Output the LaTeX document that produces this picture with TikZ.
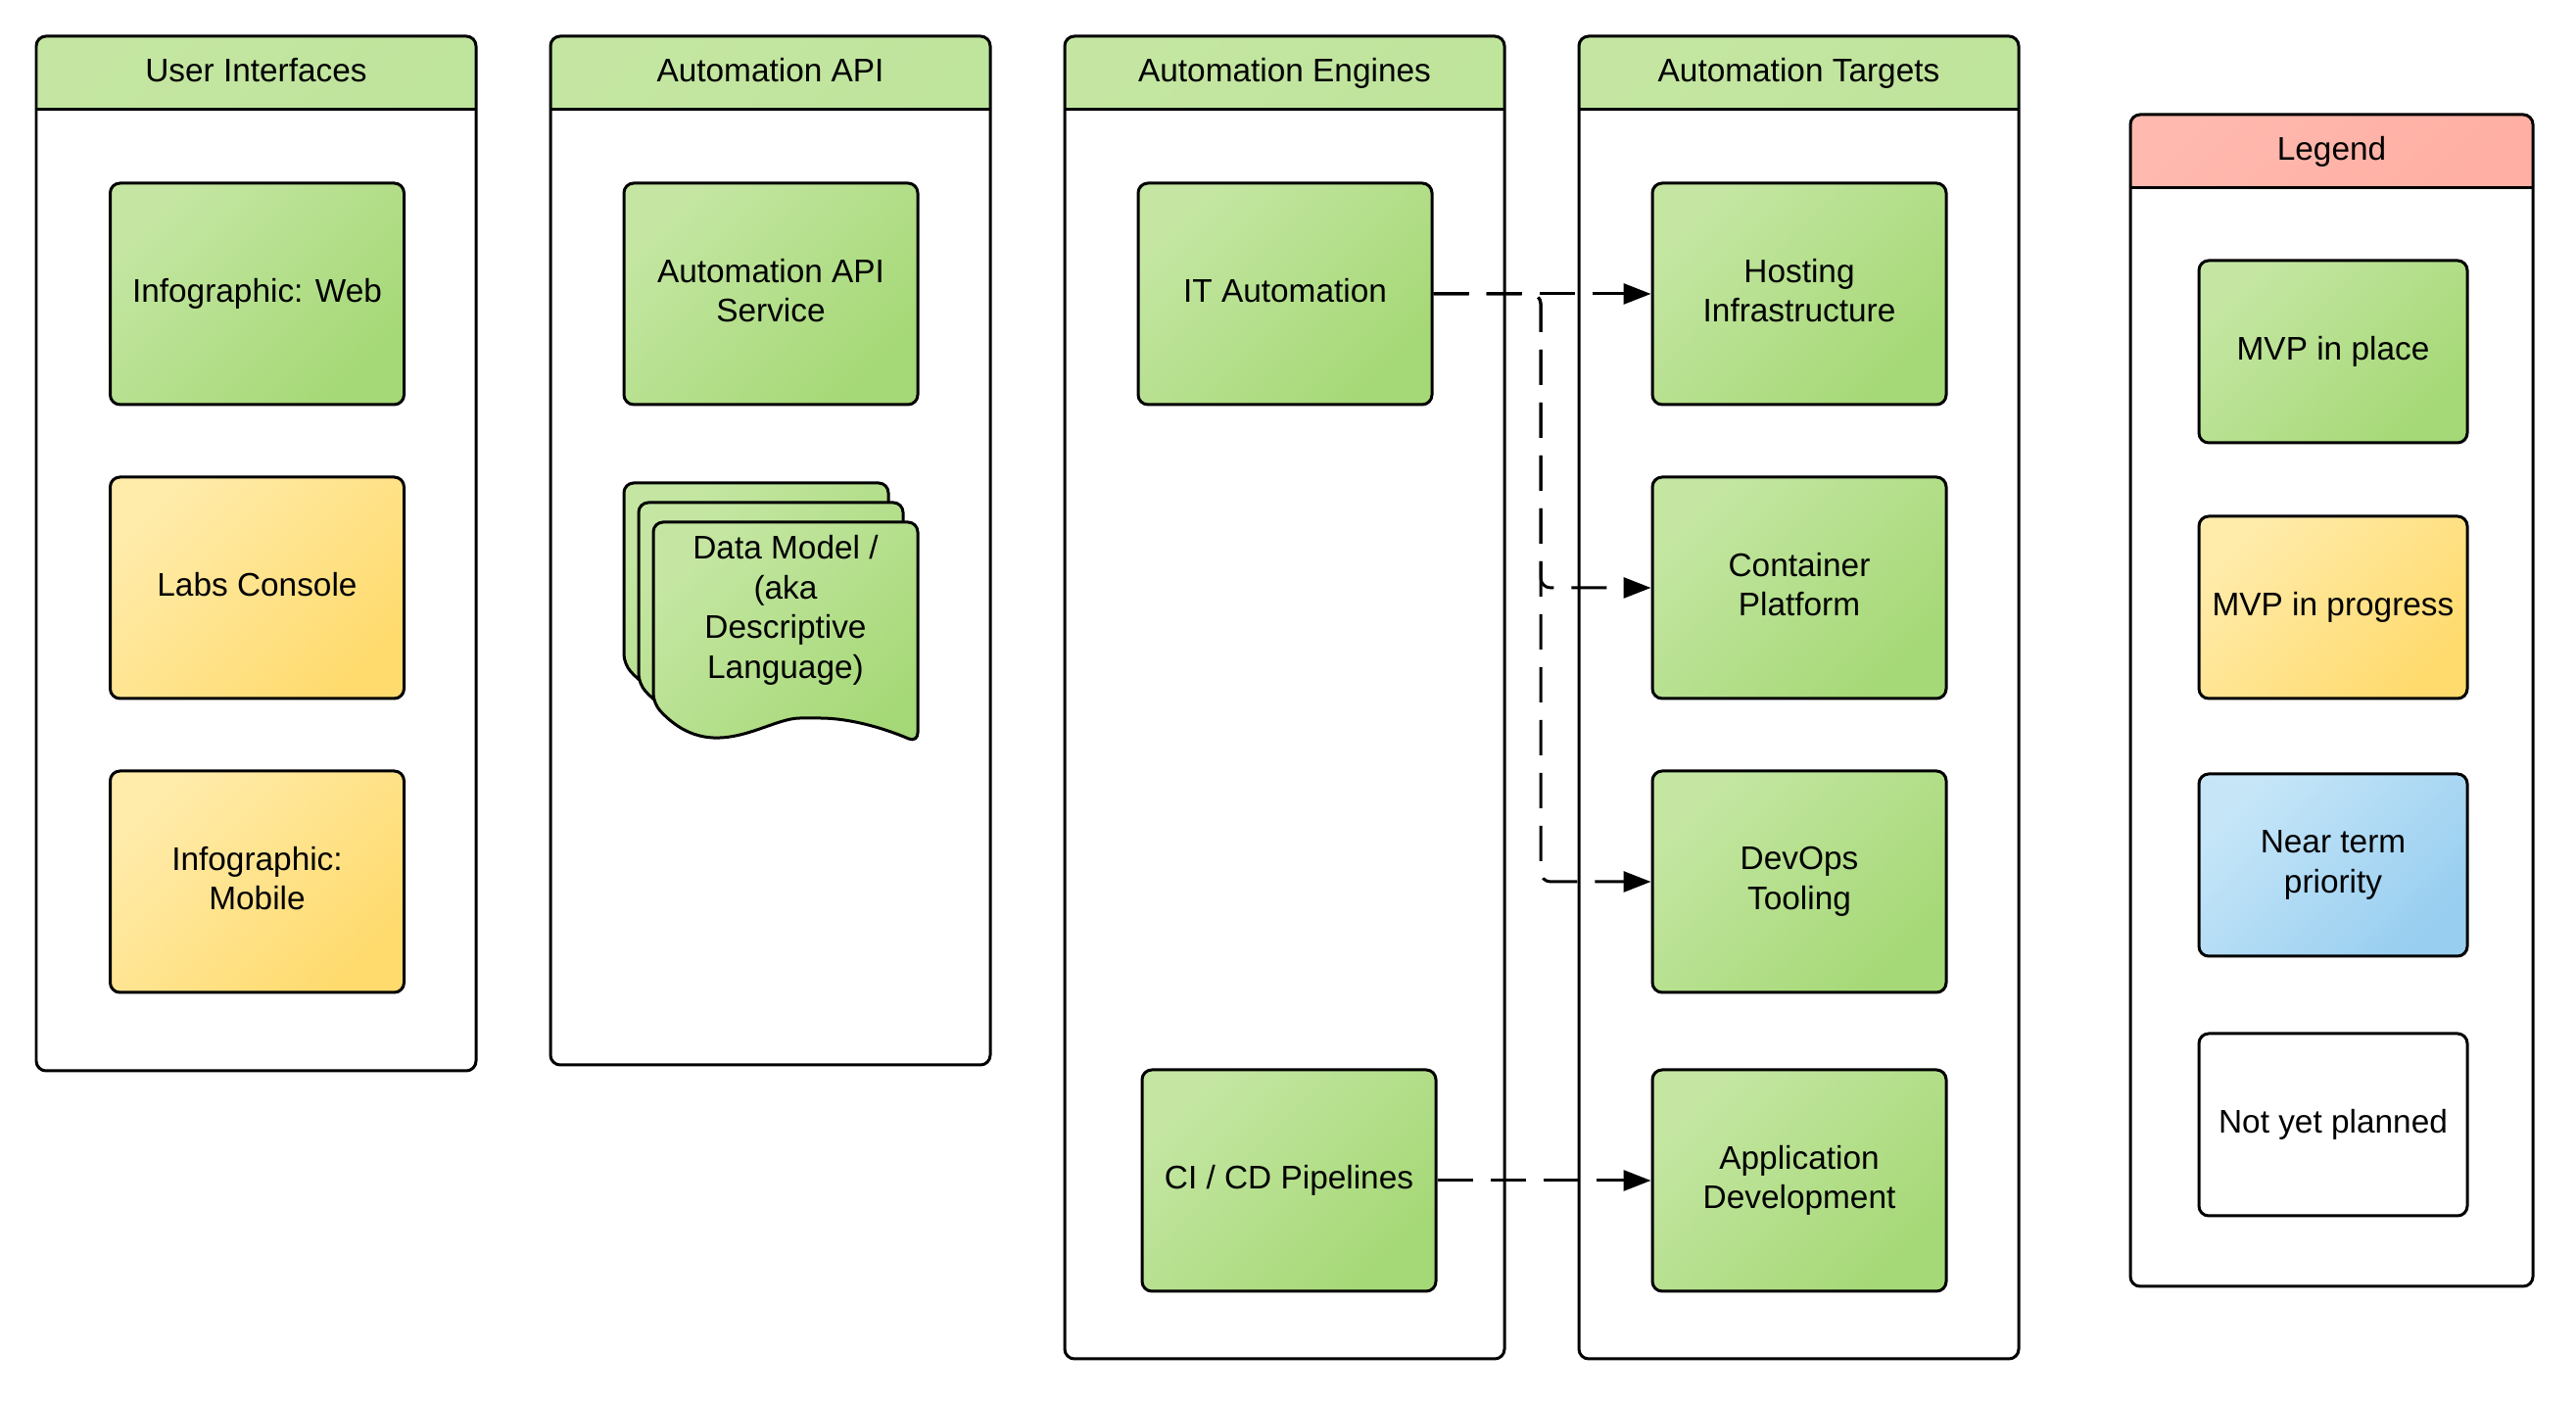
\documentclass[tikz,border=0pt]{standalone}
\usepackage{fontspec}
\setmainfont{Liberation Sans}
\usepackage{xcolor}
\usepackage{tikz}
\usetikzlibrary{arrows.meta}

\definecolor{greenA}{HTML}{C4E6A2}
\definecolor{greenB}{HTML}{A5D876}
\definecolor{yellowA}{HTML}{FFEBAA}
\definecolor{yellowB}{HTML}{FFDB6E}
\definecolor{blueA}{HTML}{C6E6F8}
\definecolor{blueB}{HTML}{98CEF0}
\definecolor{redA}{HTML}{FFB9AF}
\definecolor{redB}{HTML}{FFAFA3}

\tikzset{
  docsheet/.pic={
    \draw[line width=0.03cm, rounded corners=0.1cm, top color=greenA, bottom color=greenB, shading angle=45]
      (1.35,0) -- (0,0) -- (0,-1.85) .. controls (0.6,-2.5) and (1.15,-2.0) .. (1.6,-2.0)
      .. controls (2.0,-2.0) and (2.35,-2.1) .. (2.7,-2.25) -- (2.7,0) -- cycle;
  }
}

\begin{document}
\begin{tikzpicture}[
    txt/.style={font=\fontsize{9.5pt}{11.6pt}\selectfont, align=center},
    lane/.style={line width=0.03cm, rounded corners=0.1cm},
    headgreen/.style={top color=greenA, bottom color=greenA!85!greenB, shading angle=45},
    headred/.style={top color=redA, bottom color=redB, shading angle=45},
    card/.style={txt, draw, line width=0.03cm, rounded corners=0.1cm, minimum width=3cm, minimum height=2.26cm,
      inner sep=0pt, text depth=0.07cm},
    legcard/.style={card, minimum width=2.74cm, minimum height=1.86cm},
    mvpdone/.style={top color=greenA, bottom color=greenB, shading angle=45},
    mvpwip/.style={top color=yellowA, bottom color=yellowB, shading angle=45},
    nearterm/.style={top color=blueA, bottom color=blueB, shading angle=45},
    notplanned/.style={fill=white},
    flow/.style={line width=0.03cm, dash pattern=on 0.36cm off 0.18cm, rounded corners=0.1cm,
      -{Triangle[length=0.28cm,width=0.21cm]}}
  ]
  \useasboundingbox (0,0) rectangle (26.3,14.3);

  % lanes with their headers
  \foreach \nm/\xl/\xr/\yt/\yb/\hd/\ttl in {
      uilane/0.37/4.86/13.93/3.37/headgreen/User Interfaces,
      apilane/5.62/10.11/13.93/3.43/headgreen/Automation API,
      englane/10.87/15.36/13.93/0.43/headgreen/Automation Engines,
      tgtlane/16.12/20.61/13.93/0.43/headgreen/Automation Targets,
      leglane/21.75/25.86/13.13/1.17/headred/Legend}{
    \begin{scope}
      \clip[rounded corners=0.1cm] (\xl,\yb) rectangle (\xr,\yt);
      \shade[\hd] (\xl,\yt-0.75) rectangle (\xr,\yt);
    \end{scope}
    \draw[lane] (\xl,\yb) rectangle (\xr,\yt);
    \draw[line width=0.03cm] (\xl,\yt-0.75) -- (\xr,\yt-0.75);
    \node[txt, text depth=0.07cm] (\nm) at ({(\xl+\xr)/2},\yt-0.375) {\ttl};
  }

  % user interfaces
  \node[card, mvpdone] (web)     at (2.625,11.30) {Infographic: Web};
  \node[card, mvpwip]  (labs)    at (2.625,8.30)  {Labs Console};
  \node[card, mvpwip]  (mobile)  at (2.625,5.30)  {Infographic:\\Mobile};

  % automation api
  \node[card, mvpdone] (apisvc)  at (7.87,11.30)  {Automation API\\Service};
  \pic at (6.37,9.37) {docsheet};
  \pic at (6.52,9.17) {docsheet};
  \pic at (6.67,8.97) {docsheet};
  \node[txt] (datamodel) at (8.02,8.07) {Data Model /\\(aka\\Descriptive\\Language)};

  % automation engines
  \node[card, mvpdone] (itauto)  at (13.12,11.30) {IT Automation};
  \node[card, mvpdone] (cicd)    at (13.16,2.25)  {CI / CD Pipelines};

  % automation targets
  \node[card, mvpdone] (hosting)   at (18.37,11.30) {Hosting\\Infrastructure};
  \node[card, mvpdone] (container) at (18.37,8.30)  {Container\\Platform};
  \node[card, mvpdone] (devops)    at (18.37,5.30)  {DevOps\\Tooling};
  \node[card, mvpdone] (appdev)    at (18.37,2.25)  {Application\\Development};

  % legend
  \node[legcard, mvpdone]    (leg1) at (23.82,10.71) {MVP in place};
  \node[legcard, mvpwip]     (leg2) at (23.82,8.10)  {MVP in progress};
  \node[legcard, nearterm]   (leg3) at (23.82,5.47)  {Near term\\priority};
  \node[legcard, notplanned] (leg4) at (23.82,2.82)  {Not yet planned};

  % connectors
  \coordinate (fork) at (15.73,11.30);
  \draw[flow] (itauto.east) -- (hosting.west);
  \draw[flow] (itauto.east) -- (fork) |- (container.west);
  \draw[flow] (itauto.east) -- (fork) |- (devops.west);
  \draw[flow] (cicd.east) -- (appdev.west);
\end{tikzpicture}
\end{document}
